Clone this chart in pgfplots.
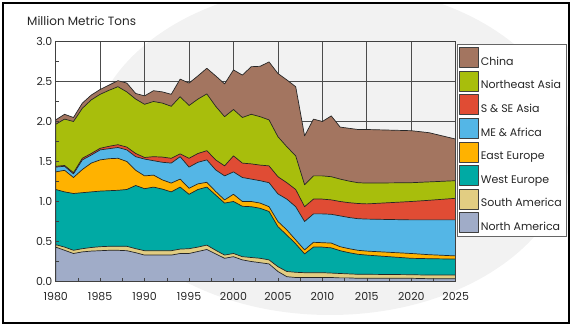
\documentclass[border=0pt]{standalone}
\usepackage{pgfplots}
\pgfplotsset{compat=1.18}
\usepackage{pgfplotstable}
\usepackage{fontspec}
\setmainfont{Poppins}

\definecolor{cChina}{RGB}{163,117,96}
\definecolor{cNEA}{RGB}{168,190,12}
\definecolor{cSSE}{RGB}{224,76,52}
\definecolor{cME}{RGB}{84,182,230}
\definecolor{cEE}{RGB}{255,178,0}
\definecolor{cWE}{RGB}{0,170,164}
\definecolor{cSA}{RGB}{226,205,130}
\definecolor{cNA}{RGB}{160,172,200}

% cumulative tops of the stacked layers (million metric tons)
\pgfplotstableread{
year  na    sa    we    ee    me    sse   nea   ch
1980  0.43  0.46  1.15  1.37  1.43  1.44  1.965 2.02
1981  0.39  0.43  1.12  1.39  1.44  1.45  2.03  2.09
1982  0.35  0.39  1.10  1.30  1.345 1.36  2.00  2.05
1983  0.37  0.41  1.11  1.40  1.52  1.54  2.165 2.23
1984  0.38  0.425 1.12  1.48  1.58  1.60  2.27  2.33
1985  0.385 0.435 1.13  1.52  1.645 1.665 2.34  2.40
1986  0.39  0.44  1.135 1.535 1.66  1.69  2.39  2.455
1987  0.39  0.44  1.14  1.54  1.675 1.71  2.435 2.51
1988  0.385 0.44  1.15  1.50  1.645 1.68  2.37  2.48
1989  0.36  0.41  1.20  1.39  1.56  1.60  2.28  2.35
1990  0.33  0.385 1.16  1.32  1.53  1.55  2.215 2.32
1991  0.33  0.385 1.18  1.33  1.51  1.56  2.25  2.385
1992  0.33  0.385 1.155 1.27  1.49  1.555 2.23  2.37
1993  0.33  0.385 1.12  1.23  1.48  1.54  2.19  2.34
1994  0.35  0.405 1.18  1.28  1.56  1.595 2.31  2.53
1995  0.35  0.41  1.09  1.165 1.43  1.54  2.20  2.48
1996  0.375 0.43  1.15  1.22  1.49  1.60  2.28  2.57
1997  0.40  0.455 1.18  1.24  1.52  1.635 2.345 2.665
1998  0.345 0.39  1.08  1.125 1.395 1.52  2.19  2.57
1999  0.29  0.33  0.98  1.02  1.32  1.445 2.06  2.47
2000  0.31  0.35  1.00  1.09  1.37  1.57  2.15  2.645
2001  0.27  0.31  0.94  1.00  1.30  1.48  2.05  2.58
2002  0.25  0.30  0.935 1.00  1.28  1.47  2.09  2.685
2003  0.235 0.29  0.915 0.98  1.26  1.455 2.06  2.69
2004  0.22  0.27  0.875 0.935 1.235 1.445 2.02  2.745
2005  0.125 0.185 0.685 0.75  1.095 1.31  1.81  2.60
2006  0.06  0.125 0.58  0.645 1.03  1.235 1.685 2.52
2007  0.05  0.115 0.47  0.52  0.935 1.15  1.57  2.435
2008  0.05  0.11  0.345 0.395 0.75  0.935 1.21  1.82
2009  0.05  0.11  0.43  0.49  0.845 1.03  1.32  2.03
2010  0.05  0.11  0.43  0.485 0.845 1.03  1.32  2.00
2011  0.05  0.105 0.42  0.48  0.84  1.02  1.31  2.07
2012  0.045 0.10  0.385 0.435 0.82  1.00  1.28  1.93
2013  0.045 0.095 0.36  0.41  0.80  0.985 1.255 1.915
2014  0.04  0.09  0.34  0.39  0.785 0.975 1.235 1.90
2015  0.04  0.09  0.33  0.38  0.78  0.97  1.23  1.90
2020  0.04  0.085 0.29  0.35  0.77  1.00  1.235 1.885
2022  0.035 0.08  0.285 0.335 0.77  1.015 1.245 1.86
2025  0.035 0.08  0.28  0.32  0.77  1.04  1.26  1.78
}\datatable

\begin{document}
\begin{tikzpicture}[x=1pt,y=1pt]
\path (0,0) rectangle (575,328);
\begin{scope}
\clip (3,5) rectangle (569,325);
\fill[gray!10] (330,178) ellipse [x radius=240, y radius=165];
\end{scope}
\draw[line width=2.3pt] (2.8,5) rectangle (569.2,325.2);
\node[anchor=base west, inner sep=0pt, text=black!85, font=\fontsize{12}{14}\selectfont] at (27,302) {Million Metric Tons};

\begin{axis}[at={(55.7pt,46.5pt)}, anchor=south west, scale only axis,
  width=400pt, height=240pt, xmin=1980, xmax=2025, ymin=0, ymax=3,
  xtick={1980,1985,...,2025}, ytick={0,0.5,...,3},
  grid=major, major grid style={black!70, line width=0.7pt},
  xticklabels={}, yticklabels={}, axis line style={draw=none},
  major tick length=0pt]
\end{axis}

\begin{axis}[at={(55.7pt,46.5pt)}, anchor=south west, scale only axis,
  width=400pt, height=240pt, xmin=1980, xmax=2025, ymin=0, ymax=3,
  axis on top,
  xtick={1980,1985,...,2025}, ytick={0,0.5,...,3},
  minor x tick num=1, minor y tick num=1,
  tick pos=left, tick align=inside,
  major tick length=3pt, minor tick length=3pt,
  axis line style={black!75, line width=0.8pt},
  tick style={black!75, line width=0.6pt},
  /pgf/number format/assume math mode=true,
  xticklabel style={/pgf/number format/1000 sep={}, yshift=-7pt},
  yticklabel style={/pgf/number format/.cd, fixed, fixed zerofill, precision=1},
  tick label style={font=\fontsize{11}{13}\selectfont, text=black!85},
  legend style={at={(1.003,0.9896)}, anchor=north west, draw=black!60,
    line width=0.6pt, fill=white, font=\fontsize{11}{12}\selectfont,
    text=black!85, row sep=2pt, inner xsep=2pt, inner ysep=2.5pt},
  legend cell align=left,
  legend image code/.code={\draw[#1, draw=black!75, line width=0.6pt] (0pt,-5.5pt) rectangle (19pt,14.5pt);},
  every axis plot/.append style={draw=black!85, line width=0.7pt, line join=round}
]
\addplot[fill=cChina] table[x=year, y=ch] {\datatable} \closedcycle;
\addplot[fill=cNEA] table[x=year, y=nea] {\datatable} \closedcycle;
\addplot[fill=cSSE] table[x=year, y=sse] {\datatable} \closedcycle;
\addplot[fill=cME] table[x=year, y=me] {\datatable} \closedcycle;
\addplot[fill=cEE] table[x=year, y=ee] {\datatable} \closedcycle;
\addplot[fill=cWE] table[x=year, y=we] {\datatable} \closedcycle;
\addplot[fill=cSA] table[x=year, y=sa] {\datatable} \closedcycle;
\addplot[fill=cNA] table[x=year, y=na] {\datatable} \closedcycle;
\legend{China, Northeast Asia, S \& SE Asia, ME \& Africa, East Europe, West Europe, South America, North America}
\end{axis}
\end{tikzpicture}
\end{document}
